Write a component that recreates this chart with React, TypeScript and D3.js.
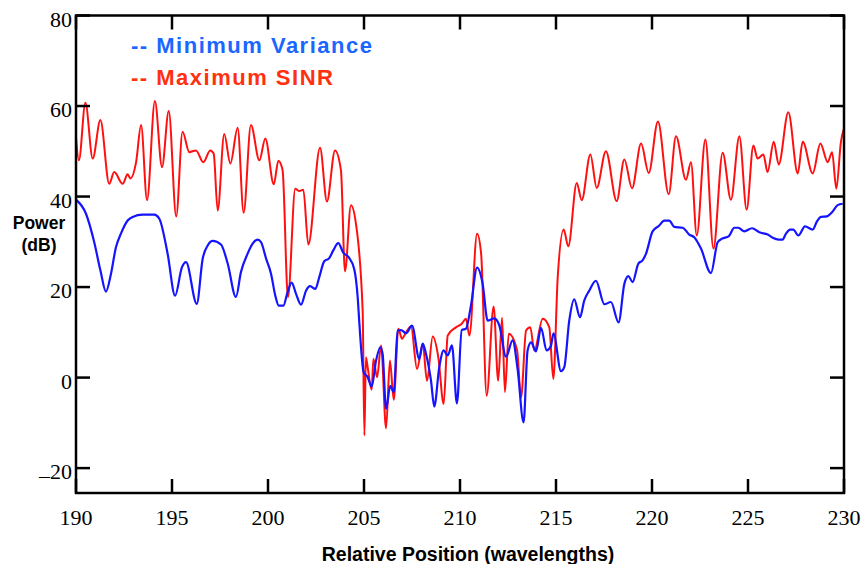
import React from "react";
import * as d3 from "d3";

// ---- data ----
const xTicks = [190, 195, 200, 205, 210, 215, 220, 225, 230];
const yTicks = [80, 60, 40, 20, 0, -20];

const sinrX = [
  190.0, 190.15, 190.49, 190.87, 191.27, 191.73, 191.99, 192.43, 192.69, 192.83, 193.13, 193.39, 193.7, 194.11,
  194.48, 194.83, 195.22, 195.55, 195.9, 196.25, 196.63, 196.99, 197.17, 197.38, 197.72, 198.04, 198.42, 198.73,
  199.11, 199.55, 199.86, 200.3, 200.54, 200.76, 201.04, 201.42, 201.63, 201.84, 202.1, 202.71, 203.07, 203.49,
  203.8, 204.01, 204.32, 204.58, 204.93, 205.02, 205.1, 205.19, 205.4, 205.49, 205.68, 205.89, 206.15, 206.35,
  206.55, 206.79, 206.98, 207.19, 207.45, 207.76, 208.06, 208.28, 208.58, 208.87, 209.15, 209.36, 209.79, 210.09,
  210.31, 210.49, 210.89, 211.1, 211.39, 211.75, 211.99, 212.19, 212.34, 212.54, 212.97, 213.18, 213.44, 213.66,
  213.87, 214.31, 214.65, 214.86, 215.09, 215.4, 215.64, 216.08, 216.34, 216.79, 217.12, 217.6, 218.16, 218.56,
  218.96, 219.43, 219.83, 220.31, 220.87, 221.25, 221.77, 222.03, 222.33, 222.78, 223.2, 223.68, 224.11, 224.55,
  224.93, 225.28, 225.5, 225.8, 226.02, 226.34, 226.6, 227.1, 227.59, 227.85, 228.37, 228.77, 229.15, 229.38,
  229.6, 229.84, 230.0,
];
const sinrY = [
  53, 48, 60.7, 48.4, 56.9, 42.8, 45.4, 42.8, 44.9, 44.0, 47.6, 55.8, 39.2, 61.1,
  46.5, 58.9, 35.6, 54.3, 49.8, 50.2, 47.6, 50.2, 49.5, 36.9, 53.8, 47.3, 55.2, 36.4,
  55.8, 48.0, 52.8, 42.7, 47.9, 45.8, 17.8, 41.7, 41.2, 41.5, 29.4, 50.8, 38.9, 50.2,
  45.8, 23.5, 38.1, 34.0, 14.8, -12.8, 4.5, 2.3, -2.7, 4.1, 0.1, 7.1, -11.2, 3.8,
  -4.9, 10.8, 8.6, 10.0, 11.3, 1.9, 7.5, -0.7, 9.1, 4.5, -5.8, 9.3, 11.1, 11.9,
  13.0, 9.3, 31.8, 27.4, -4.0, 15.7, -0.7, 13.2, -3.2, 9.7, 6.1, -4.4, 10.4, 11.1,
  6.0, 13.0, 11.1, -0.3, 22.2, 32.7, 29.0, 43.0, 39.2, 49.3, 41.9, 50.0, 39.0, 48.2,
  41.8, 51.7, 45.2, 56.6, 40.5, 53.3, 43.7, 47.6, 31.4, 52.6, 28.5, 49.7, 39.3, 53.3,
  37.1, 51.3, 48.4, 49.3, 45.4, 52.1, 47.1, 58.6, 45.1, 52.1, 45.1, 51.7, 47.6, 49.8,
  41.7, 52.1, 55.0,
];

const mvX = [
  190.0, 190.52, 190.95, 191.27, 191.56, 191.82, 192.08, 192.34, 192.69, 192.95, 193.47, 194.08, 194.34, 194.77,
  195.16, 195.52, 195.73, 196.29, 196.6, 196.86, 197.12, 197.55, 197.9, 198.33, 198.59, 198.94, 199.2, 199.46,
  199.64, 199.9, 200.16, 200.38, 200.56, 200.8, 201.02, 201.23, 201.46, 201.72, 201.98, 202.19, 202.47, 202.67,
  202.93, 203.19, 203.4, 203.66, 203.92, 204.2, 204.49, 204.67, 204.76, 204.98, 205.19, 205.4, 205.63, 205.85,
  205.97, 206.15, 206.37, 206.55, 206.75, 206.93, 207.19, 207.5, 207.88, 208.06, 208.23, 208.49, 208.66, 208.92,
  209.15, 209.36, 209.58, 209.84, 210.09, 210.31, 210.57, 210.89, 211.18, 211.44, 211.79, 212.05, 212.4, 212.74,
  213.0, 213.31, 213.52, 213.7, 213.96, 214.22, 214.51, 214.74, 214.87, 215.26, 215.43, 215.69, 215.95, 216.25,
  216.47, 216.73, 217.08, 217.52, 217.86, 218.26, 218.56, 218.77, 218.99, 219.29, 219.51, 219.69, 220.03, 220.38,
  220.64, 220.9, 221.16, 221.6, 221.94, 222.2, 222.55, 223.07, 223.42, 223.65, 223.99, 224.29, 224.5, 224.81,
  225.21, 225.59, 226.03, 226.29, 226.6, 226.8, 226.98, 227.19, 227.36, 227.62, 227.97, 228.37, 228.58, 228.8,
  229.1, 229.41, 229.67, 229.93,
];
const mvY = [
  39.3, 36.2, 29.9, 23.7, 19.0, 22.9, 28.8, 31.8, 34.7, 35.5, 36.0, 36.0, 35.1, 27.4,
  18.1, 24.4, 25.5, 16.3, 26.3, 29.2, 30.2, 29.4, 25.2, 17.8, 23.3, 27.4, 29.6, 30.5,
  29.9, 26.3, 22.9, 18.1, 15.9, 15.9, 18.9, 21.0, 18.5, 16.1, 19.2, 20.2, 19.6, 22.2,
  25.7, 26.4, 28.1, 29.7, 27.6, 26.6, 24.0, 17.8, 11.9, 1.2, 0.1, -2.0, 3.8, 6.7,
  5.2, -6.9, -1.8, -3.2, 10.4, 10.5, 9.8, 11.5, 4.1, 7.5, 5.2, -0.7, -6.4, 2.3,
  6.0, 4.9, 7.1, -5.7, 10.5, 10.8, 15.9, 24.3, 20.7, 12.6, 13.1, 11.5, 4.6, 8.2,
  1.9, -9.9, 6.0, 7.8, 5.8, 11.0, 6.0, 7.1, 9.8, 1.4, 2.3, 12.6, 17.3, 13.3,
  17.0, 19.2, 21.4, 16.2, 16.7, 12.2, 20.7, 22.4, 21.1, 25.2, 25.9, 27.4, 32.3, 33.6,
  34.7, 34.7, 33.3, 33.1, 31.6, 31.0, 28.5, 23.1, 29.9, 30.7, 31.2, 33.1, 33.1, 32.3,
  33.0, 32.1, 31.6, 30.9, 30.5, 30.5, 31.8, 32.7, 32.7, 31.4, 33.4, 32.7, 34.4, 35.5,
  35.6, 36.7, 38.1, 38.4,
];

const legendLabels = ["-- Minimum Variance", "-- Maximum SINR"];

export default function App() {
  const W = 864, H = 564;
  const left = 76, right = 844, top = 15.5, bottom = 493;
  const x = d3.scaleLinear().domain([190, 230]).range([left, right]);
  const y = d3.scaleLinear().domain([-25.5, 80]).range([bottom, top]);

  const line = d3
    .line<[number, number]>()
    .x((d) => x(d[0]))
    .y((d) => y(d[1]))
    .curve(d3.curveMonotoneX);

  const sinr = sinrX.map((v, i) => [v, sinrY[i]] as [number, number]);
  const mv = mvX.map((v, i) => [v, mvY[i]] as [number, number]);

  const tickLen = 14;
  const serifStyle = { fontFamily: '"Liberation Serif", "Times New Roman", Times, "DejaVu Serif", serif' };
  const sansStyle = { fontFamily: '"Liberation Sans", Arial, Helvetica, sans-serif' };

  return (
    <svg width={W} height={H} style={{ position: "absolute", left: 0, top: 0, background: "#fff" }}>
      <rect x={0} y={0} width={W} height={H} fill="#fff" />
      <defs>
        <clipPath id="clip">
          <rect x={left} y={top} width={right - left} height={bottom - top} />
        </clipPath>
      </defs>
      <g clipPath="url(#clip)">
        <path d={line(sinr) || ""} fill="none" stroke="#ff1010" strokeWidth={2} strokeLinejoin="round" />
        <path d={line(mv) || ""} fill="none" stroke="#1414ff" strokeWidth={2.2} strokeLinejoin="round" />
      </g>

      {/* frame */}
      <rect x={left} y={top} width={right - left} height={bottom - top} fill="none" stroke="#000" strokeWidth={2.5} />

      {/* y ticks */}
      {yTicks.map((t) => (
        <g key={"y" + t}>
          <line x1={left} x2={left + tickLen} y1={y(t)} y2={y(t)} stroke="#000" strokeWidth={2.5} />
          <line x1={right - tickLen} x2={right} y1={y(t)} y2={y(t)} stroke="#000" strokeWidth={2.5} />
          <text x={left - 4} y={y(t) + 11} textAnchor="end" style={serifStyle} fontSize={22} fill="#000">
            {t < 0 ? (
              <>
                <tspan dy={4}>–</tspan>
                <tspan dy={-4}>{Math.abs(t)}</tspan>
              </>
            ) : (
              String(t)
            )}
          </text>
        </g>
      ))}

      {/* x ticks */}
      {xTicks.map((t) => (
        <g key={"x" + t}>
          <line x1={x(t)} x2={x(t)} y1={bottom} y2={bottom - tickLen} stroke="#000" strokeWidth={2.5} />
          <line x1={x(t)} x2={x(t)} y1={top} y2={top + tickLen} stroke="#000" strokeWidth={2.5} />
          <text x={x(t)} y={525} textAnchor="middle" style={serifStyle} fontSize={22} fill="#000">
            {String(t)}
          </text>
        </g>
      ))}

      {/* axis titles */}
      <text x={468} y={561} textAnchor="middle" style={sansStyle} fontWeight="bold" fontSize={19.5} fill="#000">
        Relative Position (wavelengths)
      </text>
      <text x={39} y={229} textAnchor="middle" style={sansStyle} fontWeight="bold" fontSize={17.5} fill="#000">
        <tspan x={39}>Power</tspan>
        <tspan x={39} dy={22}>(dB)</tspan>
      </text>

      {/* legend */}
      <text x={131} y={53} style={sansStyle} fontWeight="bold" fontSize={22} letterSpacing={1.5} fill="#1a66ff">
        {legendLabels[0]}
      </text>
      <text x={131} y={85} style={sansStyle} fontWeight="bold" fontSize={22} letterSpacing={1.5} fill="#ff3010">
        {legendLabels[1]}
      </text>
    </svg>
  );
}
